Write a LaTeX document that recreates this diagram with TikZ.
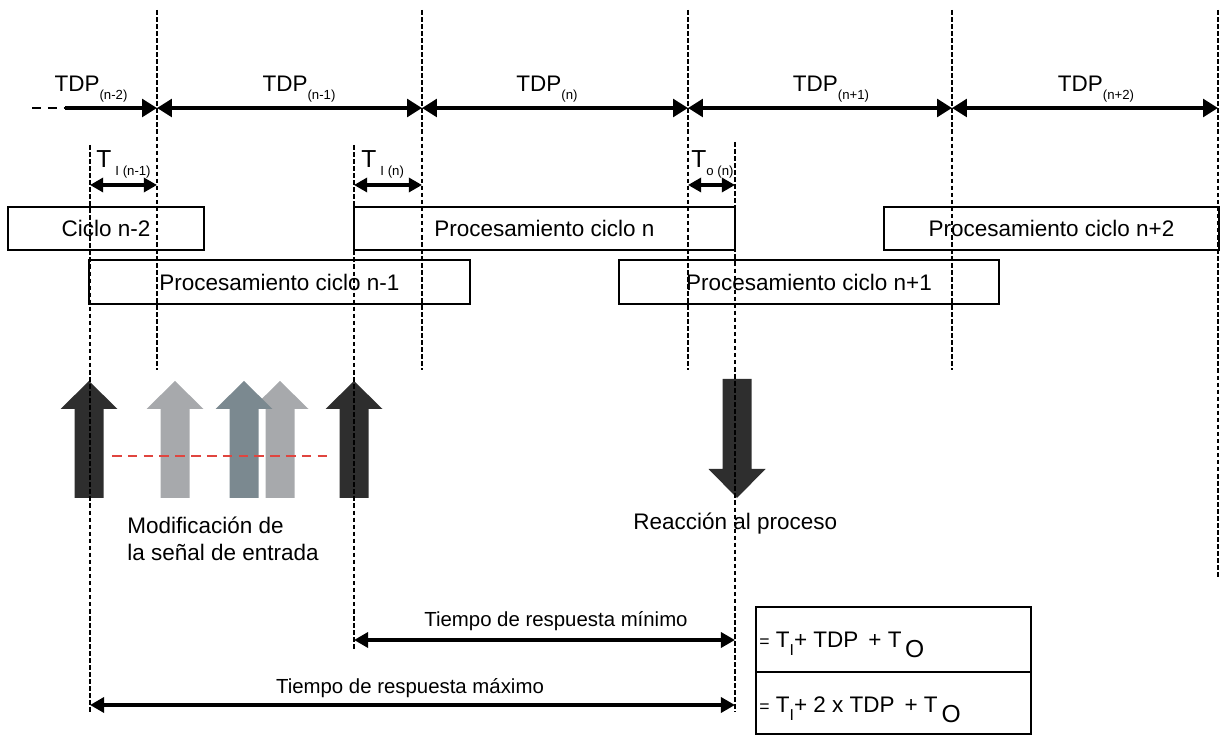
\documentclass[tikz,border=0pt]{standalone}
\usepackage{fontspec}
\setmainfont{Liberation Sans}
\usetikzlibrary{arrows.meta}
\definecolor{darkarrow}{HTML}{2E2E2E}
\definecolor{lightarrow}{HTML}{A7A9AC}
\definecolor{midarrow}{HTML}{7B8990}
\definecolor{redline}{HTML}{E0453F}
\newcommand{\idx}[1]{\raisebox{-0.6ex}{\fontsize{7.5}{8}\selectfont #1}}
\newcommand{\lowI}{\raisebox{-0.6ex}{\fontsize{9}{10}\selectfont I}}
\newcommand{\lowO}{\raisebox{-0.8ex}{\fontsize{14}{16}\selectfont O}}
\newcommand{\upblock}[2]{\fill[#2] ({#1-14.5},498) -- ({#1-14.5},409) -- ({#1-28.5},409) -- (#1,381) -- ({#1+28.5},409) -- ({#1+14.5},409) -- ({#1+14.5},498) -- cycle;}
\begin{document}
\begin{tikzpicture}[x=0.2mm, y=-0.2mm,
  tick/.style={line width=1pt, dash pattern=on 2.6pt off 1.4pt},
  span/.style={line width=2.2pt, {Triangle[length=8.5pt,width=10pt]}-{Triangle[length=8.5pt,width=10pt]}},
  shortspan/.style={line width=1.8pt, {Triangle[length=7.5pt,width=8pt]}-{Triangle[length=7.5pt,width=8pt]}},
  respspan/.style={line width=2pt, {Triangle[length=8pt,width=8.5pt]}-{Triangle[length=8pt,width=8.5pt]}},
  box/.style={draw, line width=0.9pt, inner sep=0pt, minimum height=0.87cm, font=\fontsize{12.8}{15}\selectfont},
  lbl/.style={inner sep=0pt, font=\fontsize{12.8}{15.4}\selectfont},
  small/.style={inner sep=0pt, font=\fontsize{11.6}{14}\selectfont}]
\useasboundingbox (0,0) rectangle (1222,736);
% input and output arrows
\upblock{280}{lightarrow}
\upblock{89}{darkarrow}
\upblock{175}{lightarrow}
\upblock{244}{midarrow}
\upblock{354}{darkarrow}
\fill[darkarrow] (722.5,379) -- (751.5,379) -- (751.5,469) -- (765.5,469) -- (737,498) -- (708.5,469) -- (722.5,469) -- cycle;
\draw[redline, line width=1.1pt, dash pattern=on 5.5pt off 3.5pt] (112,456) -- (332,456);
% cycle marks
\foreach \n/\x in {0/157,1/422,2/688,3/952,4/1218} \coordinate (p\n) at (\x,108);
\coordinate (s0) at (65,108);
\foreach \n/\x/\y in {0/90/145,1/354/145,2/735/142} \coordinate (q\n) at (\x,\y);
\foreach \n/\yb in {0/370,1/370,2/370,3/370,4/578} \draw[tick] (p\n |- 0,10) -- (p\n |- 0,\yb);
\draw[tick] (q0) -- (q0 |- 0,712);
\draw[tick] (q1) -- (q1 |- 0,650);
\draw[tick] (q2) -- (q2 |- 0,712);
\draw[line width=1.2pt, dash pattern=on 5pt off 4pt] (32,108) -- (s0);
\draw[line width=2.2pt, -{Triangle[length=8.5pt,width=10pt]}] (s0) -- (p0);
\foreach \a/\b in {0/1,1/2,2/3,3/4} \draw[span] (p\a) -- (p\b);
\node[lbl, anchor=base] (tdp0) at (91,92) {TDP\idx{(n-2)}};
\node[lbl, anchor=base] (tdp1) at (299,92) {TDP\idx{(n-1)}};
\node[lbl, anchor=base] (tdp2) at (547,92) {TDP\idx{(n)}};
\node[lbl, anchor=base] (tdp3) at (831,92) {TDP\idx{(n+1)}};
\node[lbl, anchor=base] (tdp4) at (1096,92) {TDP\idx{(n+2)}};
% input / output times
\draw[shortspan] (q0 |- 0,185) -- (p0 |- 0,185);
\draw[shortspan] (q1 |- 0,185) -- (p1 |- 0,185);
\draw[shortspan] (p2 |- 0,185) -- (q2 |- 0,185);
\node[lbl, anchor=base west] (ti1) at (96,168) {\fontsize{14}{16}\selectfont T\,\idx{I (n-1)}};
\node[lbl, anchor=base west] (ti2) at (361,168) {\fontsize{14}{16}\selectfont T\,\idx{I (n)}};
\node[lbl, anchor=base west] (to2) at (691,168) {\fontsize{14}{16}\selectfont T\idx{o (n)}};
% cycles
\node[box, minimum width=3.92cm] (cyc0) at (106,228.5) {Ciclo n-2};
\node[box, minimum width=7.62cm] (cyc1) at (279.5,282) {Procesamiento ciclo n-1};
\node[box, minimum width=7.62cm] (cyc2) at (544.5,228.5) {Procesamiento ciclo n};
\node[box, minimum width=7.6cm] (cyc3) at (809,282) {Procesamiento ciclo n+1};
\node[box, minimum width=6.7cm] (cyc4) at (1051.5,228.5) {Procesamiento ciclo n+2};
\node[lbl, anchor=base west, align=left] (mod) at (127,561) {Modificación de\\la señal de entrada};
\node[lbl, anchor=base west] (reac) at (633,530) {Reacción al proceso};
% response times
\draw[respspan] (q1 |- 0,640) -- (q2 |- 0,640);
\draw[respspan] (q0 |- 0,705) -- (q2 |- 0,705);
\node[small, anchor=base] (tmin) at (556,627) {Tiempo de respuesta mínimo};
\node[small, anchor=base] (tmax) at (410,693) {Tiempo de respuesta máximo};
\node[box, minimum width=5.5cm, minimum height=1.3cm, anchor=north west] (fmin) at (755,606) {};
\node[box, minimum width=5.5cm, minimum height=1.24cm, anchor=north west] (fmax) at (755,671) {};
\node[lbl, anchor=base west] at (759,648) {{\fontsize{10}{12}\selectfont =} T\lowI+ TDP\, + T\,\lowO};
\node[lbl, anchor=base west] at (759,713) {{\fontsize{10}{12}\selectfont =} T\lowI+ 2 x TDP\, + T\,\lowO};
\end{tikzpicture}
\end{document}
